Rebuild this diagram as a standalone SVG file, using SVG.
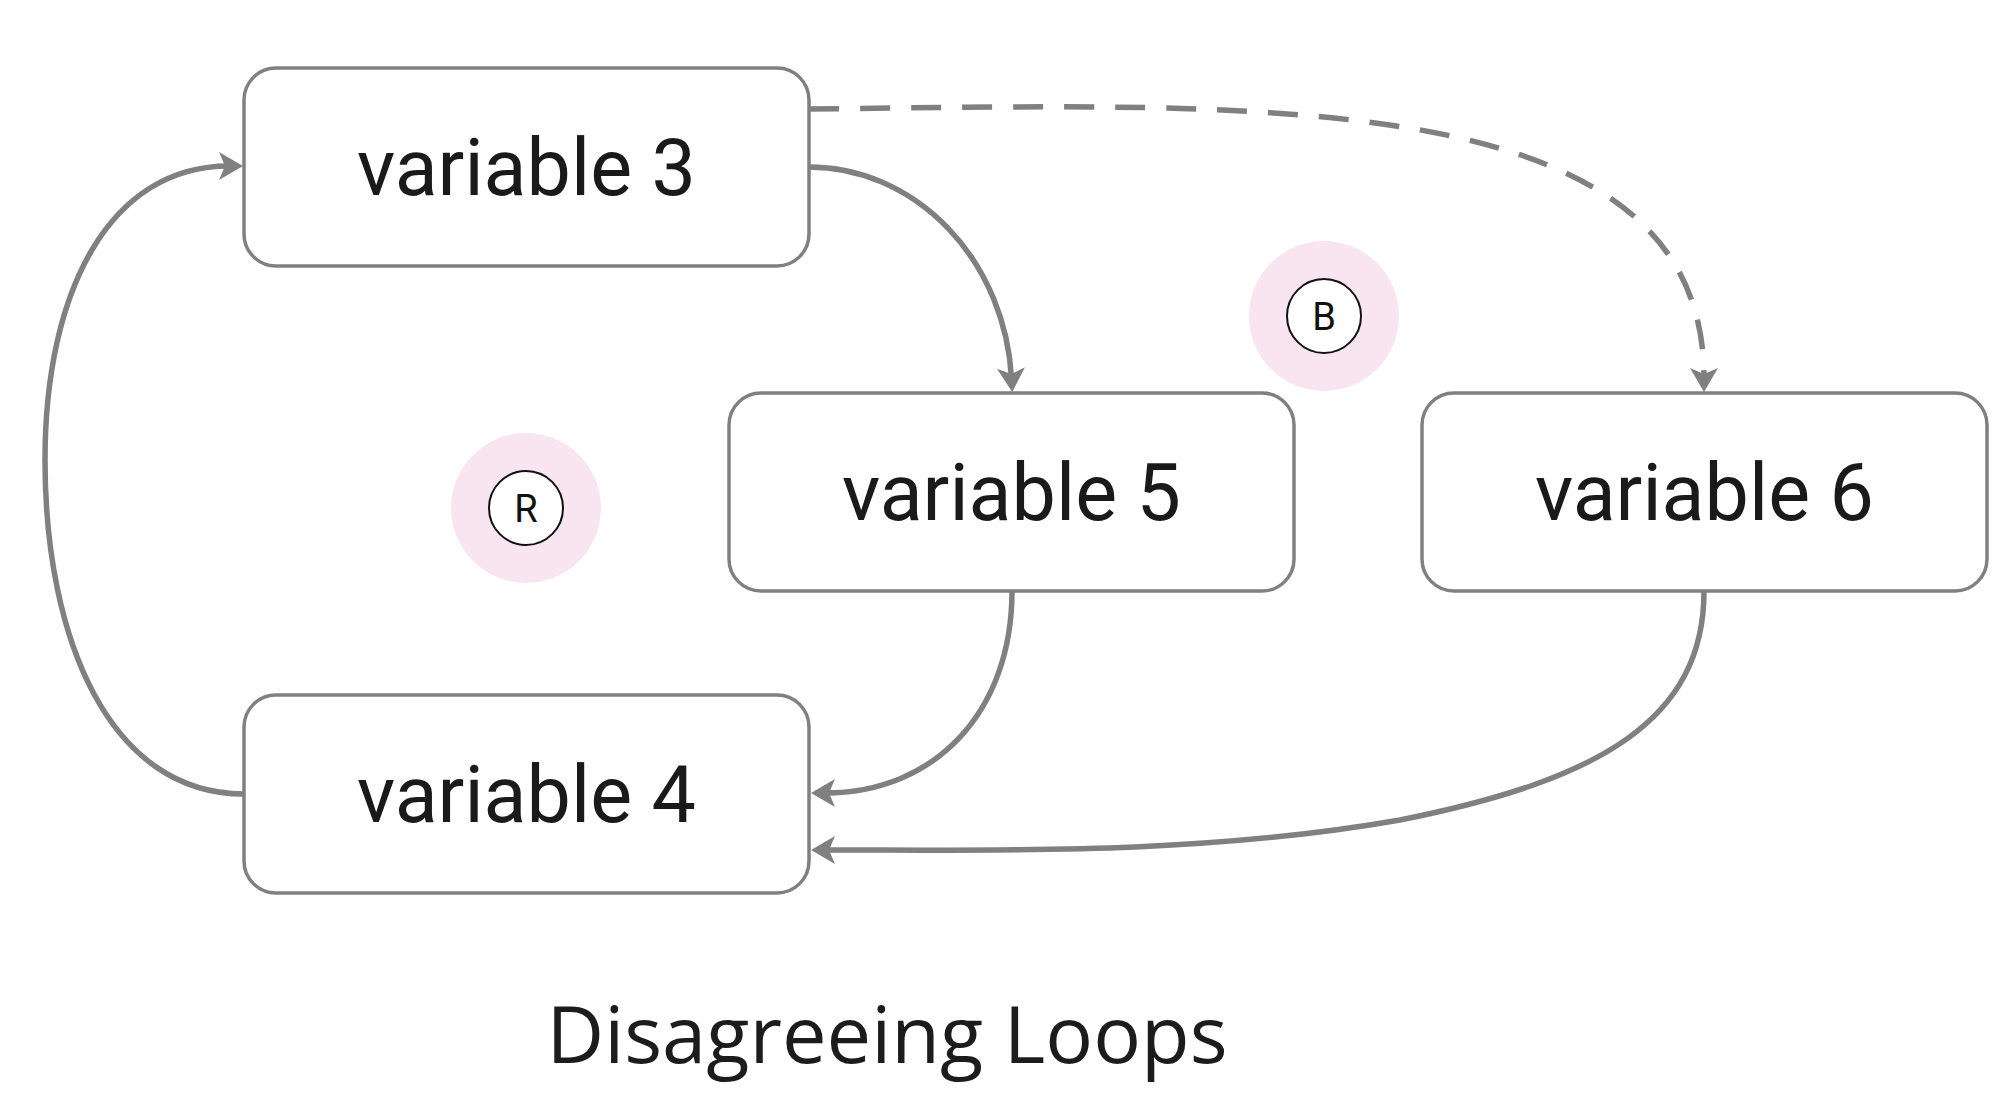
<svg xmlns="http://www.w3.org/2000/svg" width="2014" height="1117" viewBox="0 0 2014 1117">
  <style>
    .box { fill: #ffffff; stroke: #808080; stroke-width: 3.5; }
    .label { font-family: Roboto, "Liberation Sans", sans-serif; font-size: 79px; fill: #1a1a1a; text-anchor: middle; }
    .link { fill: none; stroke: #808080; stroke-width: 5.5; marker-end: url(#arrow); }
    .dashed { stroke-dasharray: 30 21; }
    .halo { fill: #f9e5ef; }
    .badge { fill: #ffffff; stroke: #111111; stroke-width: 2; }
    .badge-text { font-family: Roboto, "Liberation Sans", sans-serif; font-size: 38px; fill: #111111; text-anchor: middle; }
    .title { font-family: "Open Sans", "Liberation Sans", sans-serif; font-size: 79.5px; fill: #1c1c1c; text-anchor: middle; }
  </style>
  <defs>
    <!-- notched arrowhead; tip sits 14px beyond the end of each path -->
    <marker id="arrow" markerUnits="userSpaceOnUse" viewBox="-12 -16 30 32" refX="0" refY="0" markerWidth="30" markerHeight="32" orient="auto" overflow="visible">
      <path d="M14,0 L-10,-14 L-4,0 L-10,14 Z" fill="#808080"/>
    </marker>
  </defs>

  <rect width="2014" height="1117" fill="#ffffff"/>

  <!-- loop markers -->
  <g id="loop-r">
    <circle class="halo" cx="526" cy="508" r="75"/>
    <circle class="badge" cx="526" cy="508" r="37"/>
    <text class="badge-text" x="526" y="522">R</text>
  </g>
  <g id="loop-b">
    <circle class="halo" cx="1324" cy="316" r="75"/>
    <circle class="badge" cx="1324" cy="316" r="37"/>
    <text class="badge-text" x="1324" y="330">B</text>
  </g>

  <!-- connectors -->
  <g id="connectors">
    <path id="v3-v5" class="link" d="M 809 167 A 203 225 0 0 1 1011.5 378"/>
    <path id="v3-v6" class="link dashed" d="M 809 109 C 1250 105, 1704 80, 1704 378"/>
    <path id="v5-v4" class="link" d="M 1012 591 C 1012 712, 935 793, 825 793"/>
    <path id="v6-v4" class="link" d="M 1704 591 C 1704 720, 1600 780, 1400 820 C 1200 855, 1000 850, 825 850"/>
    <path id="v4-v3" class="link" d="M 244 794 C 110 794, 45 640, 45 460 C 45 290, 110 166, 229 166"/>
  </g>

  <!-- nodes -->
  <g id="node-v3">
    <rect class="box" x="244" y="68" width="565" height="198" rx="32"/>
    <text class="label" x="526.5" y="195">variable 3</text>
  </g>
  <g id="node-v5">
    <rect class="box" x="729" y="393" width="565" height="198" rx="32"/>
    <text class="label" x="1011.5" y="520">variable 5</text>
  </g>
  <g id="node-v6">
    <rect class="box" x="1422" y="393" width="565" height="198" rx="32"/>
    <text class="label" x="1704.5" y="520">variable 6</text>
  </g>
  <g id="node-v4">
    <rect class="box" x="244" y="695" width="565" height="198" rx="32"/>
    <text class="label" x="526.5" y="822">variable 4</text>
  </g>

  <text id="title" class="title" x="887" y="1063">Disagreeing Loops</text>
</svg>
